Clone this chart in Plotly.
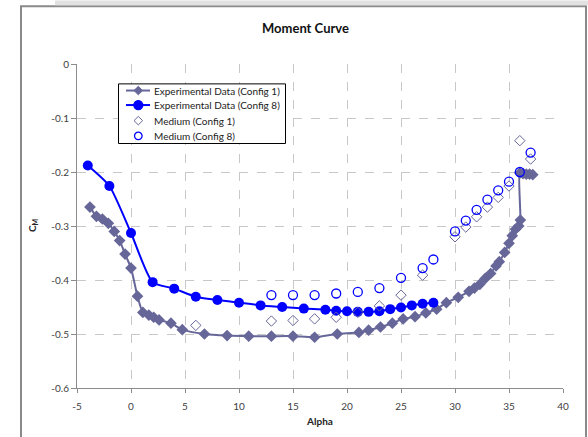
import plotly.graph_objects as go

# ---- data ----
exp1_alpha = [-3.8, -3.2, -2.65, -2.1, -1.55, -1.05, -0.55, 0.0, 0.6, 1.1, 1.65, 2.1, 2.6, 3.7, 4.75,
              6.8, 8.9, 10.9, 13.0, 15.0, 17.0, 19.1, 21.1, 22.0, 23.1, 24.2, 25.2, 26.3, 27.3, 28.3,
              29.2, 30.3, 31.3, 31.8, 32.3, 32.8, 33.3, 33.8, 34.1, 34.6, 35.0, 35.3, 35.6, 35.9,
              36.05, 36.0, 36.3, 36.6, 36.9, 37.2]
exp1_cm = [-0.265, -0.282, -0.287, -0.295, -0.310, -0.327, -0.352, -0.378, -0.430, -0.460, -0.465,
           -0.469, -0.474, -0.480, -0.492, -0.500, -0.503, -0.504, -0.504, -0.504, -0.506, -0.500,
           -0.497, -0.493, -0.487, -0.480, -0.472, -0.468, -0.461, -0.454, -0.442, -0.432, -0.421,
           -0.415, -0.408, -0.397, -0.388, -0.374, -0.366, -0.349, -0.332, -0.318, -0.306, -0.300,
           -0.289, -0.202, -0.203, -0.204, -0.204, -0.205]

exp8_alpha = [-4, -2, 0, 2, 4, 6, 8, 10, 12, 14, 16, 18, 19, 20, 21, 22, 23, 24, 25, 26, 27, 28]
exp8_cm = [-0.188, -0.226, -0.313, -0.404, -0.416, -0.431, -0.437, -0.442, -0.447, -0.450, -0.453,
           -0.455, -0.457, -0.458, -0.459, -0.459, -0.458, -0.454, -0.451, -0.447, -0.444, -0.442]

med1_alpha = [6, 13, 15, 17, 19, 21, 23, 25, 27, 30, 31, 32, 33, 34, 35, 36, 37]
med1_cm = [-0.484, -0.476, -0.475, -0.472, -0.469, -0.460, -0.448, -0.428, -0.391, -0.320, -0.302,
           -0.283, -0.265, -0.247, -0.226, -0.142, -0.176]

med8_alpha = [13, 15, 17, 19, 21, 23, 25, 27, 28, 30, 31, 32, 33, 34, 35, 36, 37]
med8_cm = [-0.428, -0.428, -0.428, -0.425, -0.422, -0.415, -0.396, -0.378, -0.362, -0.310, -0.290,
           -0.270, -0.251, -0.234, -0.218, -0.200, -0.164]

series_names = ["Experimental Data (Config 1)", "Experimental Data (Config 8)",
                "Medium (Config 1)", "Medium (Config 8)"]

x_ticks = [-5, 0, 5, 10, 15, 20, 25, 30, 35, 40]
x_ticktext = ["-5", "0", "5", "10", "15", "20", "25", "30", "35", "40"]
y_ticks = [0, -0.1, -0.2, -0.3, -0.4, -0.5, -0.6]
y_ticktext = ["0", "-0.1", "-0.2", "-0.3", "-0.4", "-0.5", "-0.6"]

SLATE = "#666699"
BLUE = "#0000FF"
FONT = "Lato"

fig = go.Figure()
fig.add_trace(go.Scatter(
    x=exp1_alpha, y=exp1_cm, mode="lines+markers", name=series_names[0], showlegend=False,
    line=dict(color=SLATE, width=2, shape="spline", smoothing=0.6),
    marker=dict(symbol="diamond", size=9, color=SLATE)))
fig.add_trace(go.Scatter(
    x=exp8_alpha, y=exp8_cm, mode="lines+markers", name=series_names[1], showlegend=False,
    line=dict(color=BLUE, width=2, shape="spline", smoothing=0.6),
    marker=dict(symbol="circle", size=10, color=BLUE)))
fig.add_trace(go.Scatter(
    x=med1_alpha, y=med1_cm, mode="markers", name=series_names[2], showlegend=False,
    marker=dict(symbol="diamond-open", size=8, color=SLATE, line=dict(width=1))))
fig.add_trace(go.Scatter(
    x=med8_alpha, y=med8_cm, mode="markers", name=series_names[3], showlegend=False,
    marker=dict(symbol="circle-open", size=9, color=BLUE, line=dict(width=1.3))))

L, R, T, B = 77, 25, 64, 47
W, H = 588, 437
pw, ph = W - L - R, H - T - B


def px_x(p):
    return (p - L) / pw


def px_y(p):
    return (H - B - p) / ph


shapes = [
    dict(type="rect", xref="paper", yref="paper", x0=px_x(21), x1=px_x(586),
         y0=px_y(445), y1=px_y(6), line=dict(color="#8a8a8a", width=2), layer="below"),
    dict(type="rect", xref="paper", yref="paper", x0=px_x(55), x1=px_x(588),
         y0=px_y(5), y1=px_y(0), line=dict(width=0), fillcolor="#e2e2e2", layer="below"),
    # legend box
    dict(type="rect", xref="paper", yref="paper", x0=px_x(118.5), x1=px_x(285.5),
         y0=px_y(144), y1=px_y(84), line=dict(color="#000000", width=1), fillcolor="white",
         layer="above"),
]
annotations = [
    dict(text="<b>Moment Curve</b>", x=px_x(305), y=px_y(28), xref="paper", yref="paper",
         xanchor="center", yanchor="middle",
         showarrow=False, font=dict(family=FONT, size=13, color="#111")),
    dict(text="<b>C<sub>M</sub></b>", x=px_x(32), y=px_y(226), xref="paper", yref="paper",
         xanchor="center", yanchor="middle",
         showarrow=False, textangle=-90, font=dict(family=FONT, size=10, color="#222")),
]

# legend entries (drawn by hand to match the compact Excel legend)
leg_y = [90.7, 105.3, 121.0, 136.3]
leg_colors = [SLATE, BLUE, SLATE, BLUE]
leg_lines = [True, True, False, False]
leg_marker = ["diamond", "circle", "diamond-open", "circle-open"]
mx = 138.3
for i, name in enumerate(series_names):
    cy = leg_y[i]
    c = leg_colors[i]
    if leg_lines[i]:
        shapes.append(dict(type="line", xref="paper", yref="paper",
                           x0=px_x(126), x1=px_x(150), y0=px_y(cy), y1=px_y(cy),
                           line=dict(color=c, width=2), layer="above"))
    m = leg_marker[i]
    if m.startswith("diamond"):
        r = 4.3
        path = "M {} {} L {} {} L {} {} L {} {} Z".format(
            px_x(mx - r), px_y(cy), px_x(mx), px_y(cy - r),
            px_x(mx + r), px_y(cy), px_x(mx), px_y(cy + r))
        shapes.append(dict(type="path", xref="paper", yref="paper", path=path,
                           fillcolor=c if m == "diamond" else "white",
                           line=dict(color=c, width=1), layer="above"))
    else:
        r = 4.5 if m == "circle" else 3.8
        shapes.append(dict(type="circle", xref="paper", yref="paper",
                           x0=px_x(mx - r), x1=px_x(mx + r), y0=px_y(cy + r), y1=px_y(cy - r),
                           fillcolor=c if m == "circle" else "white",
                           line=dict(color=c, width=1.3), layer="above"))
    annotations.append(dict(text=name, x=px_x(152), y=px_y(cy), xref="paper", yref="paper",
                            xanchor="left", yanchor="middle", showarrow=False,
                            font=dict(family=FONT, size=10, color="#222222")))

fig.update_layout(
    width=W, height=H,
    margin=dict(l=L, r=R, t=T, b=B),
    paper_bgcolor="white", plot_bgcolor="white",
    font=dict(family=FONT, size=10, color="#404040"),
    showlegend=False,
    xaxis=dict(range=[-5, 40], tickvals=x_ticks, ticktext=x_ticktext,
               showline=True, linecolor="#8c8c8c", linewidth=1,
               ticks="outside", ticklen=4, tickcolor="#8c8c8c", ticklabelstandoff=5,
               showgrid=True, gridcolor="#c8c8c8", griddash="dash", gridwidth=1,
               zeroline=False,
               title=dict(text="<b>Alpha</b>", font=dict(family=FONT, size=10, color="#222"), standoff=6)),
    yaxis=dict(range=[-0.6, 0], tickvals=y_ticks, ticktext=y_ticktext,
               showline=True, linecolor="#8c8c8c", linewidth=1,
               ticks="outside", ticklen=5, tickcolor="#8c8c8c",
               showgrid=True, gridcolor="#c8c8c8", griddash="dash", gridwidth=1,
               zeroline=False),
    annotations=annotations,
    shapes=shapes,
)

fig.write_html("out.html", config={"displayModeBar": False},
               post_script="document.body.style.margin='0';document.body.style.overflow='hidden';")
